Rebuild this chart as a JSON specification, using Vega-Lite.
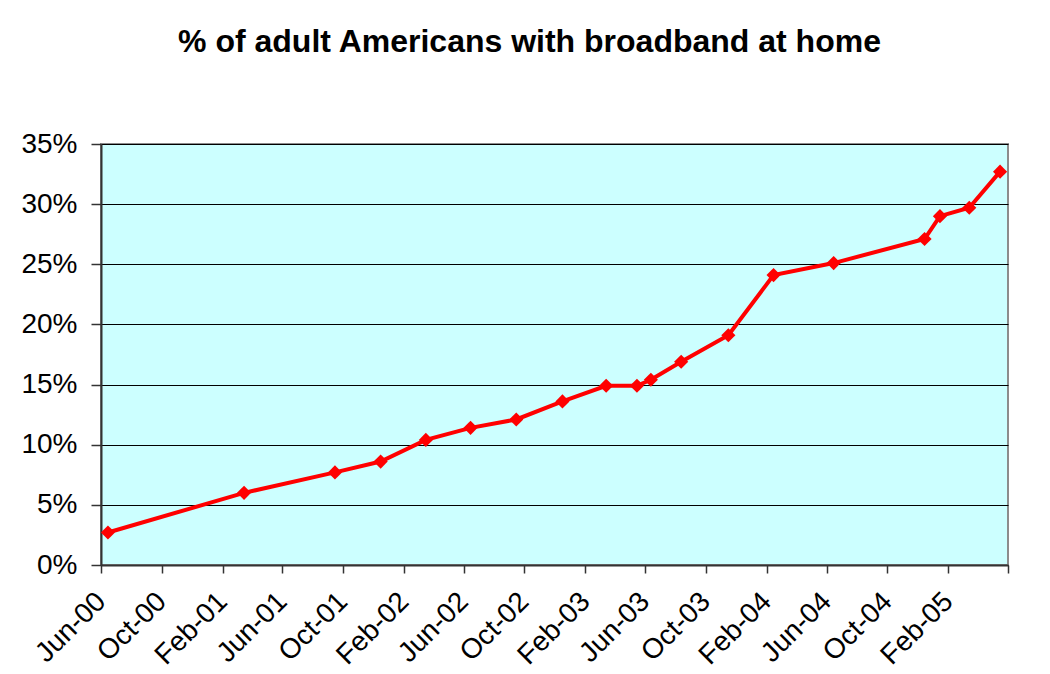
{
  "$schema": "https://vega.github.io/schema/vega-lite/v6.json",
  "autosize": {"type": "none"},
  "width": 907,
  "height": 421,
  "padding": {"left": 101, "top": 144, "right": 42, "bottom": 109},
  "background": "#FFFFFF",
  "title": {
    "text": "% of adult Americans with broadband at home",
    "font": "Liberation Sans",
    "fontSize": 32,
    "fontWeight": "bold",
    "color": "#000000",
    "anchor": "middle",
    "baseline": "alphabetic",
    "offset": 46,
    "dx": -25
  },
  "config": {
    "view": {"fill": "#CCFFFF", "stroke": "#8C8C8C", "strokeWidth": 2},
    "axis": {
      "labelFont": "Liberation Sans",
      "labelColor": "#000000",
      "domainColor": "#333333",
      "tickColor": "#333333",
      "domainWidth": 2,
      "tickWidth": 1.5
    }
  },
  "data": {
    "values": [
      {"date": "2000-06-15", "pct": 2.7},
      {"date": "2001-03-16", "pct": 6.0},
      {"date": "2001-09-15", "pct": 7.7},
      {"date": "2001-12-16", "pct": 8.6},
      {"date": "2002-03-17", "pct": 10.4},
      {"date": "2002-06-15", "pct": 11.4},
      {"date": "2002-09-15", "pct": 12.1},
      {"date": "2002-12-17", "pct": 13.6},
      {"date": "2003-03-15", "pct": 14.9},
      {"date": "2003-05-16", "pct": 14.9},
      {"date": "2003-06-13", "pct": 15.4},
      {"date": "2003-08-13", "pct": 16.9},
      {"date": "2003-11-16", "pct": 19.1},
      {"date": "2004-02-15", "pct": 24.1},
      {"date": "2004-06-15", "pct": 25.1},
      {"date": "2004-12-15", "pct": 27.1},
      {"date": "2005-01-15", "pct": 29.0},
      {"date": "2005-03-15", "pct": 29.7},
      {"date": "2005-05-16", "pct": 32.7}
    ],
    "format": {"parse": {"date": "date"}}
  },
  "encoding": {
    "x": {
      "field": "date",
      "type": "temporal",
      "title": null,
      "scale": {
        "domain": [
          {"year": 2000, "month": 6, "date": 1},
          {"year": 2005, "month": 6, "date": 1}
        ],
        "nice": false
      },
      "axis": {
        "values": [
          {"year": 2000, "month": 6, "date": 1},
          {"year": 2000, "month": 10, "date": 1},
          {"year": 2001, "month": 2, "date": 1},
          {"year": 2001, "month": 6, "date": 1},
          {"year": 2001, "month": 10, "date": 1},
          {"year": 2002, "month": 2, "date": 1},
          {"year": 2002, "month": 6, "date": 1},
          {"year": 2002, "month": 10, "date": 1},
          {"year": 2003, "month": 2, "date": 1},
          {"year": 2003, "month": 6, "date": 1},
          {"year": 2003, "month": 10, "date": 1},
          {"year": 2004, "month": 2, "date": 1},
          {"year": 2004, "month": 6, "date": 1},
          {"year": 2004, "month": 10, "date": 1},
          {"year": 2005, "month": 2, "date": 1},
          {"year": 2005, "month": 6, "date": 1}
        ],
        "labelExpr": "datum.value >= datetime(2005, 4, 1) ? '' : timeFormat(datum.value, '%b-%y')",
        "labelAngle": -45,
        "labelAlign": "right",
        "labelBaseline": "middle",
        "labelFontSize": 28,
        "labelPadding": 24,
        "labelOverlap": false,
        "labelBound": false,
        "labelFlush": false,
        "tickSize": 8,
        "grid": false
      }
    },
    "y": {
      "field": "pct",
      "type": "quantitative",
      "title": null,
      "scale": {"domain": [0, 35], "nice": false, "zero": true},
      "axis": {
        "values": [0, 5, 10, 15, 20, 25, 30, 35],
        "labelExpr": "datum.value + '%'",
        "labelFontSize": 28,
        "labelPadding": 14,
        "tickSize": 10,
        "grid": true,
        "gridColor": "#000000",
        "gridWidth": 1
      }
    }
  },
  "layer": [
    {
      "mark": {"type": "line", "color": "#FF0000", "strokeWidth": 4}
    },
    {
      "mark": {"type": "point", "shape": "diamond", "filled": true, "color": "#FF0000", "size": 200, "opacity": 1}
    }
  ]
}
